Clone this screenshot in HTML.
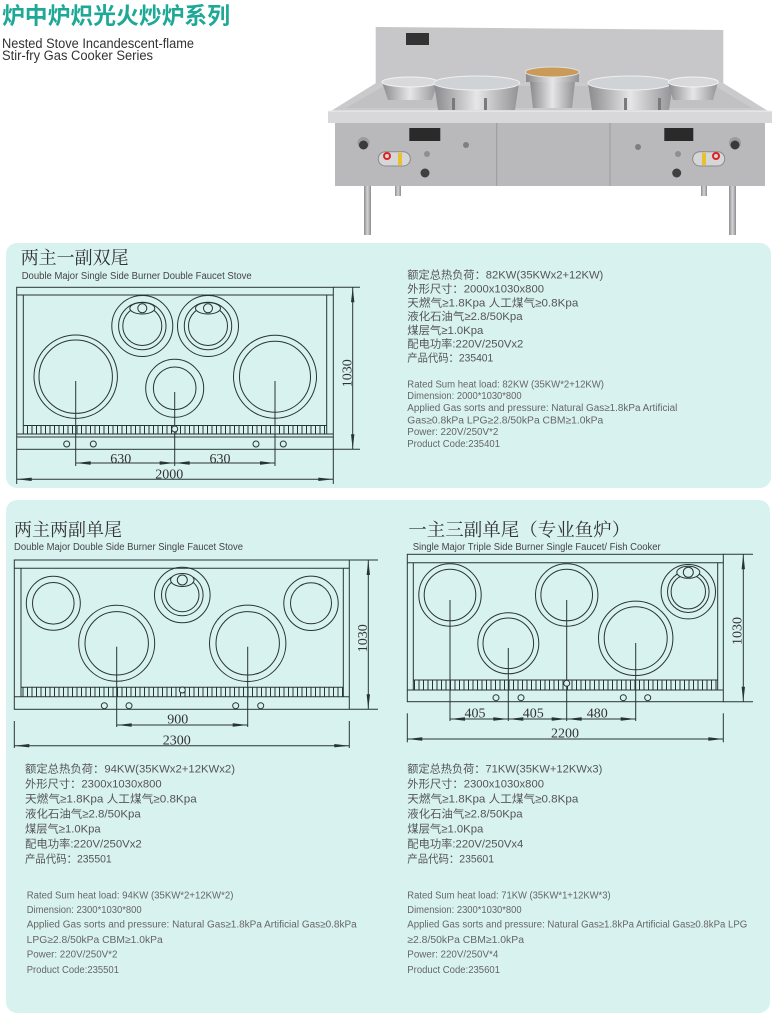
<!DOCTYPE html>
<html>
<head>
<meta charset="utf-8">
<style>
  html,body{margin:0;padding:0;background:#fff;}
  body{width:777px;height:1016px;overflow:hidden;}
  svg{display:block;}
  .ln{stroke:#283434;fill:none;stroke-width:1;}
  .ah{fill:#283434;stroke:none;}
  .dim{font-family:"Liberation Serif",serif;font-size:14px;fill:#333;}
  .ttl{font-family:"Liberation Serif","Noto Serif CJK SC",serif;font-size:18px;fill:#333;}
  .sub{font-family:"Liberation Sans",sans-serif;font-size:10px;fill:#444;}
  .cn{font-family:"Liberation Sans","Noto Sans CJK SC",sans-serif;font-size:11px;fill:#555;}
  .en{font-family:"Liberation Sans","Noto Sans CJK SC",sans-serif;font-size:10px;fill:#666;}
</style>
</head>
<body>
<svg width="777" height="1016" viewBox="0 0 777 1016" xmlns="http://www.w3.org/2000/svg">
<defs>
  <linearGradient id="bowl" x1="0" y1="0" x2="1" y2="0">
    <stop offset="0" stop-color="#8a8a8d"/>
    <stop offset="0.5" stop-color="#e6e6e8"/>
    <stop offset="1" stop-color="#929295"/>
  </linearGradient>
  <linearGradient id="leg" x1="0" y1="0" x2="1" y2="0">
    <stop offset="0" stop-color="#8d8d90"/>
    <stop offset="0.5" stop-color="#d4d4d6"/>
    <stop offset="1" stop-color="#8d8d90"/>
  </linearGradient>
  <pattern id="comb" x="0" y="0" width="4.5" height="20" patternUnits="userSpaceOnUse">
    <line x1="0.5" y1="0" x2="0.5" y2="20" stroke="#283434" stroke-width="1"/>
  </pattern>
</defs>

<!-- ===== Header ===== -->
<text x="2" y="23.5" textLength="228" lengthAdjust="spacingAndGlyphs" style="font-family:'Liberation Sans','Noto Sans CJK SC',sans-serif;font-size:23px;font-weight:bold;fill:#1ea996;">炉中炉炽光火炒炉系列</text>
<text x="2" y="48" textLength="192" lengthAdjust="spacingAndGlyphs" style="font-family:'Liberation Sans',sans-serif;font-size:13.5px;fill:#333;">Nested Stove Incandescent-flame</text>
<text x="2" y="60" textLength="151" lengthAdjust="spacingAndGlyphs" style="font-family:'Liberation Sans',sans-serif;font-size:13.5px;fill:#333;">Stir-fry Gas Cooker Series</text>

<!-- ===== Stove photo ===== -->
<g>
  <polygon points="375.7,27 723.3,30 723.3,86 375.7,86" fill="#c7c7c9"/>
  <polygon points="376,83 723,83 768,111 331,111" fill="#cacacd"/>
  <polygon points="384,86 715,86 752,108 346,108" fill="#c1c1c4"/>
  <rect x="328" y="110.5" width="444" height="12.5" fill="#d8d8da"/>
  <line x1="328" y1="111" x2="772" y2="111" stroke="#f0f0f1" stroke-width="1"/>
  <rect x="335" y="123" width="430" height="63" fill="#b9b9bc"/>
  <line x1="496.7" y1="123" x2="496.7" y2="186" stroke="#9a9a9d"/>
  <line x1="610" y1="123" x2="610" y2="186" stroke="#9a9a9d"/>
  <!-- legs -->
  <rect x="364" y="186" width="7" height="49" fill="url(#leg)"/>
  <rect x="395" y="186" width="6" height="10" fill="url(#leg)"/>
  <rect x="729" y="186" width="7" height="49" fill="url(#leg)"/>
  <rect x="701" y="186" width="6" height="10" fill="url(#leg)"/>
  <!-- burners -->
  <path d="M382,82 L438,82 L432,100 L388,100 Z" fill="url(#bowl)"/>
  <ellipse cx="410" cy="82" rx="28" ry="5" fill="#d9d9db" stroke="#f2f2f2"/>
  <path d="M434,83 L519,83 L515,110 L438,110 Z" fill="url(#bowl)"/>
  <ellipse cx="476.7" cy="83" rx="43" ry="7" fill="#d0d3d5" stroke="#efefef"/>
  <rect x="452" y="98" width="3" height="12" fill="#7a7a7d"/>
  <rect x="484" y="98" width="3" height="12" fill="#7a7a7d"/>
  <path d="M530,82 L575,82 L572,108 L533,108 Z" fill="url(#bowl)"/>
  <rect x="526" y="72" width="53" height="10" fill="url(#bowl)"/>
  <ellipse cx="552.3" cy="72" rx="27" ry="5" fill="#c99a58" stroke="#e0e0e0"/>
  <path d="M588,83 L673,83 L669,110 L592,110 Z" fill="url(#bowl)"/>
  <ellipse cx="630" cy="83" rx="42" ry="7" fill="#d0d3d5" stroke="#efefef"/>
  <rect x="624" y="98" width="3" height="12" fill="#7a7a7d"/>
  <rect x="658" y="98" width="3" height="12" fill="#7a7a7d"/>
  <path d="M668,82 L718,82 L713,100 L673,100 Z" fill="url(#bowl)"/>
  <ellipse cx="693.3" cy="82" rx="25" ry="5" fill="#d9d9db" stroke="#f2f2f2"/>
  <!-- labels -->
  <rect x="406" y="33" width="23" height="12" fill="#333"/>
  <rect x="409.3" y="128" width="31" height="13" fill="#2a2a2a"/>
  <rect x="664.3" y="128" width="29" height="13" fill="#2a2a2a"/>
  <!-- windows -->
  <rect x="378.3" y="151.7" width="32" height="14.3" rx="7" fill="#d6d6d6" stroke="#8a8a8a"/>
  <circle cx="387" cy="156" r="3" fill="none" stroke="#d22" stroke-width="2"/>
  <rect x="398" y="153" width="4" height="12" fill="#e8c030"/>
  <rect x="692.7" y="151.7" width="32" height="14.3" rx="7" fill="#d6d6d6" stroke="#8a8a8a"/>
  <circle cx="716" cy="156" r="3" fill="none" stroke="#d22" stroke-width="2"/>
  <rect x="702" y="153" width="4" height="12" fill="#e8c030"/>
  <!-- knobs -->
  <circle cx="363.5" cy="143" r="6" fill="#9c9c9f"/>
  <circle cx="363.5" cy="145" r="4.5" fill="#3a3a3c"/>
  <circle cx="735" cy="143" r="6" fill="#9c9c9f"/>
  <circle cx="735" cy="145" r="4.5" fill="#3a3a3c"/>
  <circle cx="425" cy="173" r="4.5" fill="#3f3f41"/>
  <circle cx="676.7" cy="173" r="4.5" fill="#3f3f41"/>
  <circle cx="427" cy="154" r="3" fill="#8f8f92"/>
  <circle cx="678" cy="154" r="3" fill="#8f8f92"/>
  <circle cx="466" cy="145" r="3" fill="#7f7f82"/>
  <circle cx="638" cy="147" r="3" fill="#7f7f82"/>
</g>

<!-- ===== Panels ===== -->
<rect x="6" y="243" width="765" height="245" rx="11" fill="#d8f2f0"/>
<rect x="6" y="500" width="764" height="513" rx="11" fill="#d8f2f0"/>

<!-- ===== Panel 1 ===== -->
<text class="ttl" x="20.7" y="264">两主一副双尾</text>
<text class="sub" x="21.7" y="279" textLength="230" lengthAdjust="spacingAndGlyphs">Double Major Single Side Burner Double Faucet Stove</text>

<g class="ln">
  <rect x="16.7" y="287.3" width="316.6" height="162"/>
  <line x1="16.7" y1="295" x2="333.3" y2="295"/>
  <line x1="23.3" y1="295" x2="23.3" y2="434"/>
  <line x1="326.7" y1="295" x2="326.7" y2="434"/>
  <line x1="23.3" y1="425.5" x2="326.7" y2="425.5"/>
  <line x1="16.7" y1="434" x2="333.3" y2="434"/>
  <line x1="16.7" y1="437" x2="333.3" y2="437"/>
</g>
<rect x="23.3" y="425.5" width="303.4" height="8.5" fill="url(#comb)"/>
<g class="ln">
  <line x1="16.7" y1="449.3" x2="16.7" y2="484"/>
  <line x1="333.3" y1="449.3" x2="333.3" y2="484"/>
  <circle cx="75.7" cy="376.7" r="41.7"/>
  <circle cx="75.7" cy="376.7" r="36.7"/>
  <circle cx="174.7" cy="388.3" r="29"/>
  <circle cx="174.7" cy="388.3" r="21.3"/>
  <circle cx="275" cy="376.7" r="41.5"/>
  <circle cx="275" cy="376.7" r="35.5"/>
  <circle cx="142.3" cy="326" r="30.5"/>
  <circle cx="142.3" cy="326" r="23.7"/>
  <circle cx="142.3" cy="326" r="19.5"/>
  <ellipse cx="142.3" cy="308.3" rx="12.5" ry="5.7" fill="#d8f2f0"/>
  <circle cx="142.3" cy="308.3" r="4.5"/>
  <circle cx="208" cy="326" r="30.5"/>
  <circle cx="208" cy="326" r="23.7"/>
  <circle cx="208" cy="326" r="19.5"/>
  <ellipse cx="208" cy="308.3" rx="12.5" ry="5.7" fill="#d8f2f0"/>
  <circle cx="208" cy="308.3" r="4.5"/>
  <line x1="75.7" y1="381" x2="75.7" y2="466"/>
  <line x1="174.7" y1="392" x2="174.7" y2="466"/>
  <line x1="275" y1="381" x2="275" y2="466"/>
  <circle cx="174.7" cy="429" r="3" fill="#d8f2f0"/>
  <circle cx="66.7" cy="444" r="3"/>
  <circle cx="93.3" cy="444" r="3"/>
  <circle cx="256" cy="444" r="3"/>
  <circle cx="283.3" cy="444" r="3"/>
  <line x1="75.7" y1="463" x2="275" y2="463"/>
  <line x1="16.7" y1="479.3" x2="333.3" y2="479.3"/>
  <line x1="352.7" y1="287.3" x2="352.7" y2="449.3"/>
  <line x1="333.3" y1="287.3" x2="360" y2="287.3"/>
  <line x1="333.3" y1="449.3" x2="360" y2="449.3"/>
</g>
<g class="ah">
  <polygon points="75.7,463 90.7,461.3 90.7,464.7"/>
  <polygon points="174.7,463 159.7,461.3 159.7,464.7"/>
  <polygon points="174.7,463 189.7,461.3 189.7,464.7"/>
  <polygon points="275,463 260,461.3 260,464.7"/>
  <polygon points="16.7,479.3 31.7,477.6 31.7,481"/>
  <polygon points="333.3,479.3 318.3,477.6 318.3,481"/>
  <polygon points="352.7,287.3 351,302.3 354.4,302.3"/>
  <polygon points="352.7,449.3 351,434.3 354.4,434.3"/>
</g>
<text class="dim" x="120.7" y="463" text-anchor="middle">630</text>
<text class="dim" x="220" y="463" text-anchor="middle">630</text>
<text class="dim" x="169.3" y="478.5" text-anchor="middle">2000</text>
<text class="dim" text-anchor="middle" transform="translate(351.5,373.3) rotate(-90)">1030</text>

<!-- Panel 1 specs -->
<text class="cn" x="407.3" y="278.3" textLength="196" lengthAdjust="spacingAndGlyphs">额定总热负荷：82KW(35KWx2+12KW)</text>
<text class="cn" x="407.3" y="292.3" textLength="136.7" lengthAdjust="spacingAndGlyphs">外形尺寸：2000x1030x800</text>
<text class="cn" x="407.3" y="306.3" textLength="171" lengthAdjust="spacingAndGlyphs">天燃气≥1.8Kpa  人工煤气≥0.8Kpa</text>
<text class="cn" x="407.3" y="320" textLength="115.3" lengthAdjust="spacingAndGlyphs">液化石油气≥2.8/50Kpa</text>
<text class="cn" x="407.3" y="334" textLength="76" lengthAdjust="spacingAndGlyphs">煤层气≥1.0Kpa</text>
<text class="cn" x="407.3" y="347.3" textLength="116" lengthAdjust="spacingAndGlyphs">配电功率:220V/250Vx2</text>
<text class="cn" x="407.3" y="361.3" textLength="86" lengthAdjust="spacingAndGlyphs">产品代码：235401</text>

<text class="en" x="407.3" y="387.5" textLength="196.7" lengthAdjust="spacingAndGlyphs">Rated Sum heat load: 82KW (35KW*2+12KW)</text>
<text class="en" x="407.3" y="399.2" textLength="114.3" lengthAdjust="spacingAndGlyphs">Dimension: 2000*1030*800</text>
<text class="en" x="407.3" y="411.2" textLength="270" lengthAdjust="spacingAndGlyphs">Applied Gas sorts and pressure: Natural Gas≥1.8kPa   Artificial</text>
<text class="en" x="407.3" y="423.5" textLength="196" lengthAdjust="spacingAndGlyphs">Gas≥0.8kPa  LPG≥2.8/50kPa   CBM≥1.0kPa</text>
<text class="en" x="407.3" y="435.2" textLength="91" lengthAdjust="spacingAndGlyphs">Power: 220V/250V*2</text>
<text class="en" x="407.3" y="447.2" textLength="92.7" lengthAdjust="spacingAndGlyphs">Product Code:235401</text>

<!-- ===== Panel 2 left ===== -->
<text class="ttl" x="14" y="536">两主两副单尾</text>
<text class="sub" x="14" y="550" textLength="229" lengthAdjust="spacingAndGlyphs">Double Major Double Side Burner Single Faucet Stove</text>

<g class="ln">
  <rect x="14.3" y="560" width="335" height="149.3"/>
  <line x1="14.3" y1="568.3" x2="349.3" y2="568.3"/>
  <line x1="21" y1="568.3" x2="21" y2="696.7"/>
  <line x1="343.3" y1="568.3" x2="343.3" y2="696.7"/>
  <line x1="21" y1="687.3" x2="343.3" y2="687.3"/>
  <line x1="14.3" y1="696.7" x2="349.3" y2="696.7"/>
</g>
<rect x="21" y="687.3" width="322.3" height="9.4" fill="url(#comb)"/>
<g class="ln">
  <circle cx="53.3" cy="603.3" r="27"/>
  <circle cx="53.3" cy="603.3" r="20.8"/>
  <circle cx="116.7" cy="643.3" r="38"/>
  <circle cx="116.7" cy="643.3" r="31.7"/>
  <circle cx="182.3" cy="595" r="27.8"/>
  <circle cx="182.3" cy="595" r="20.8"/>
  <circle cx="182.3" cy="595" r="16.7"/>
  <ellipse cx="182.3" cy="580" rx="11.7" ry="6.5" fill="#d8f2f0"/>
  <circle cx="182.3" cy="580" r="5"/>
  <circle cx="247.7" cy="643.3" r="38.2"/>
  <circle cx="247.7" cy="643.3" r="31.7"/>
  <circle cx="311" cy="603.3" r="27.2"/>
  <circle cx="311" cy="603.3" r="20.5"/>
  <line x1="116.7" y1="646.7" x2="116.7" y2="727"/>
  <line x1="247.7" y1="646.7" x2="247.7" y2="727"/>
  <circle cx="182.3" cy="690" r="3" fill="#d8f2f0"/>
  <circle cx="104.3" cy="705.7" r="3"/>
  <circle cx="129" cy="705.7" r="3"/>
  <circle cx="235.7" cy="705.7" r="3"/>
  <circle cx="260.7" cy="705.7" r="3"/>
  <line x1="116.7" y1="725" x2="247.7" y2="725"/>
  <line x1="14.3" y1="745.7" x2="349.3" y2="745.7"/>
  <line x1="14.3" y1="721" x2="14.3" y2="748"/>
  <line x1="349.3" y1="721" x2="349.3" y2="748"/>
  <line x1="368.3" y1="560" x2="368.3" y2="709.3"/>
  <line x1="349.3" y1="560" x2="378" y2="560"/>
  <line x1="349.3" y1="709.3" x2="378" y2="709.3"/>
</g>
<g class="ah">
  <polygon points="116.7,725 131.7,723.3 131.7,726.7"/>
  <polygon points="247.7,725 232.7,723.3 232.7,726.7"/>
  <polygon points="14.3,745.7 29.3,744 29.3,747.4"/>
  <polygon points="349.3,745.7 334.3,744 334.3,747.4"/>
  <polygon points="368.3,560 366.6,575 370,575"/>
  <polygon points="368.3,709.3 366.6,694.3 370,694.3"/>
</g>
<text class="dim" x="177.7" y="723.5" text-anchor="middle">900</text>
<text class="dim" x="176.7" y="744.5" text-anchor="middle">2300</text>
<text class="dim" text-anchor="middle" transform="translate(367,638.3) rotate(-90)">1030</text>

<!-- ===== Panel 2 right ===== -->
<text class="ttl" x="408.3" y="536" textLength="222" lengthAdjust="spacingAndGlyphs">一主三副单尾（专业鱼炉）</text>
<text class="sub" x="412.7" y="550" textLength="248" lengthAdjust="spacingAndGlyphs">Single Major Triple Side Burner Single Faucet/ Fish Cooker</text>

<g class="ln">
  <rect x="407.3" y="554.3" width="316" height="147.4"/>
  <line x1="407.3" y1="562.7" x2="723.3" y2="562.7"/>
  <line x1="413.3" y1="562.7" x2="413.3" y2="690"/>
  <line x1="717.7" y1="562.7" x2="717.7" y2="690"/>
  <line x1="413.3" y1="680" x2="717.7" y2="680"/>
  <line x1="407.3" y1="690" x2="723.3" y2="690"/>
</g>
<rect x="413.3" y="680" width="304.4" height="10" fill="url(#comb)"/>
<g class="ln">
  <circle cx="450" cy="595" r="31.2"/>
  <circle cx="450" cy="595" r="25.8"/>
  <circle cx="508.3" cy="643.3" r="30.5"/>
  <circle cx="508.3" cy="643.3" r="25.3"/>
  <circle cx="566.7" cy="595" r="31.2"/>
  <circle cx="566.7" cy="595" r="25.8"/>
  <circle cx="635.7" cy="638.3" r="37.2"/>
  <circle cx="635.7" cy="638.3" r="31.5"/>
  <circle cx="688.3" cy="591.7" r="27.2"/>
  <circle cx="688.3" cy="591.7" r="20.8"/>
  <circle cx="688.3" cy="591.7" r="17.2"/>
  <ellipse cx="688.3" cy="572.3" rx="11.5" ry="6" fill="#d8f2f0"/>
  <circle cx="688.3" cy="572.3" r="5"/>
  <line x1="450" y1="600" x2="450" y2="721"/>
  <line x1="508.3" y1="648" x2="508.3" y2="721"/>
  <line x1="566.7" y1="600" x2="566.7" y2="721"/>
  <line x1="635.7" y1="643" x2="635.7" y2="721"/>
  <circle cx="566.7" cy="683.3" r="3" fill="#d8f2f0"/>
  <circle cx="496" cy="697.7" r="3"/>
  <circle cx="521" cy="697.7" r="3"/>
  <circle cx="623.3" cy="697.7" r="3"/>
  <circle cx="647.7" cy="697.7" r="3"/>
  <line x1="450" y1="719" x2="635.7" y2="719"/>
  <line x1="407.3" y1="739" x2="723.3" y2="739"/>
  <line x1="407.3" y1="713.3" x2="407.3" y2="742.3"/>
  <line x1="723.3" y1="713.3" x2="723.3" y2="742.3"/>
  <line x1="743.3" y1="554.3" x2="743.3" y2="701.7"/>
  <line x1="723.3" y1="554.3" x2="753" y2="554.3"/>
  <line x1="723.3" y1="701.7" x2="753" y2="701.7"/>
</g>
<g class="ah">
  <polygon points="450,719 465,717.3 465,720.7"/>
  <polygon points="508.3,719 493.3,717.3 493.3,720.7"/>
  <polygon points="508.3,719 523.3,717.3 523.3,720.7"/>
  <polygon points="566.7,719 551.7,717.3 551.7,720.7"/>
  <polygon points="566.7,719 581.7,717.3 581.7,720.7"/>
  <polygon points="635.7,719 620.7,717.3 620.7,720.7"/>
  <polygon points="407.3,739 422.3,737.3 422.3,740.7"/>
  <polygon points="723.3,739 708.3,737.3 708.3,740.7"/>
  <polygon points="743.3,554.3 741.6,569.3 745,569.3"/>
  <polygon points="743.3,701.7 741.6,686.7 745,686.7"/>
</g>
<text class="dim" x="475" y="717.5" text-anchor="middle">405</text>
<text class="dim" x="533.3" y="717.5" text-anchor="middle">405</text>
<text class="dim" x="597.3" y="717.5" text-anchor="middle">480</text>
<text class="dim" x="565" y="737.7" text-anchor="middle">2200</text>
<text class="dim" text-anchor="middle" transform="translate(741.5,631) rotate(-90)">1030</text>

<!-- ===== Bottom-left specs ===== -->
<text class="cn" x="25" y="772.3" textLength="210" lengthAdjust="spacingAndGlyphs">额定总热负荷：94KW(35KWx2+12KWx2)</text>
<text class="cn" x="25" y="787.3" textLength="136.7" lengthAdjust="spacingAndGlyphs">外形尺寸：2300x1030x800</text>
<text class="cn" x="25" y="802.3" textLength="171.7" lengthAdjust="spacingAndGlyphs">天燃气≥1.8Kpa  人工煤气≥0.8Kpa</text>
<text class="cn" x="25" y="817.3" textLength="115.7" lengthAdjust="spacingAndGlyphs">液化石油气≥2.8/50Kpa</text>
<text class="cn" x="25" y="832.3" textLength="75.7" lengthAdjust="spacingAndGlyphs">煤层气≥1.0Kpa</text>
<text class="cn" x="25" y="847.3" textLength="116.7" lengthAdjust="spacingAndGlyphs">配电功率:220V/250Vx2</text>
<text class="cn" x="25" y="862.3" textLength="86.7" lengthAdjust="spacingAndGlyphs">产品代码：235501</text>

<text class="en" x="26.7" y="898.5" textLength="206.7" lengthAdjust="spacingAndGlyphs">Rated Sum heat load: 94KW (35KW*2+12KW*2)</text>
<text class="en" x="26.7" y="912.8" textLength="115" lengthAdjust="spacingAndGlyphs">Dimension: 2300*1030*800</text>
<text class="en" x="26.7" y="927.5" textLength="330" lengthAdjust="spacingAndGlyphs">Applied Gas sorts and pressure: Natural Gas≥1.8kPa   Artificial Gas≥0.8kPa</text>
<text class="en" x="26.7" y="942.8" textLength="136" lengthAdjust="spacingAndGlyphs">LPG≥2.8/50kPa   CBM≥1.0kPa</text>
<text class="en" x="26.7" y="957.5" textLength="90.7" lengthAdjust="spacingAndGlyphs">Power: 220V/250V*2</text>
<text class="en" x="26.7" y="972.8" textLength="92.3" lengthAdjust="spacingAndGlyphs">Product Code:235501</text>

<!-- ===== Bottom-right specs ===== -->
<text class="cn" x="407.3" y="772.3" textLength="195" lengthAdjust="spacingAndGlyphs">额定总热负荷：71KW(35KW+12KWx3)</text>
<text class="cn" x="407.3" y="787.3" textLength="136.7" lengthAdjust="spacingAndGlyphs">外形尺寸：2300x1030x800</text>
<text class="cn" x="407.3" y="802.3" textLength="171" lengthAdjust="spacingAndGlyphs">天燃气≥1.8Kpa  人工煤气≥0.8Kpa</text>
<text class="cn" x="407.3" y="817.3" textLength="115.3" lengthAdjust="spacingAndGlyphs">液化石油气≥2.8/50Kpa</text>
<text class="cn" x="407.3" y="832.3" textLength="76" lengthAdjust="spacingAndGlyphs">煤层气≥1.0Kpa</text>
<text class="cn" x="407.3" y="847.3" textLength="116" lengthAdjust="spacingAndGlyphs">配电功率:220V/250Vx4</text>
<text class="cn" x="407.3" y="862.3" textLength="86.7" lengthAdjust="spacingAndGlyphs">产品代码：235601</text>

<text class="en" x="407.3" y="898.5" textLength="203.3" lengthAdjust="spacingAndGlyphs">Rated Sum heat load: 71KW (35KW*1+12KW*3)</text>
<text class="en" x="407.3" y="912.8" textLength="114.3" lengthAdjust="spacingAndGlyphs">Dimension: 2300*1030*800</text>
<text class="en" x="407.3" y="927.5" textLength="340" lengthAdjust="spacingAndGlyphs">Applied Gas sorts and pressure: Natural Gas≥1.8kPa  Artificial Gas≥0.8kPa  LPG</text>
<text class="en" x="407.3" y="942.8" textLength="116.7" lengthAdjust="spacingAndGlyphs">≥2.8/50kPa   CBM≥1.0kPa</text>
<text class="en" x="407.3" y="957.5" textLength="91" lengthAdjust="spacingAndGlyphs">Power: 220V/250V*4</text>
<text class="en" x="407.3" y="972.8" textLength="92.7" lengthAdjust="spacingAndGlyphs">Product Code:235601</text>
</svg>
</body>
</html>
